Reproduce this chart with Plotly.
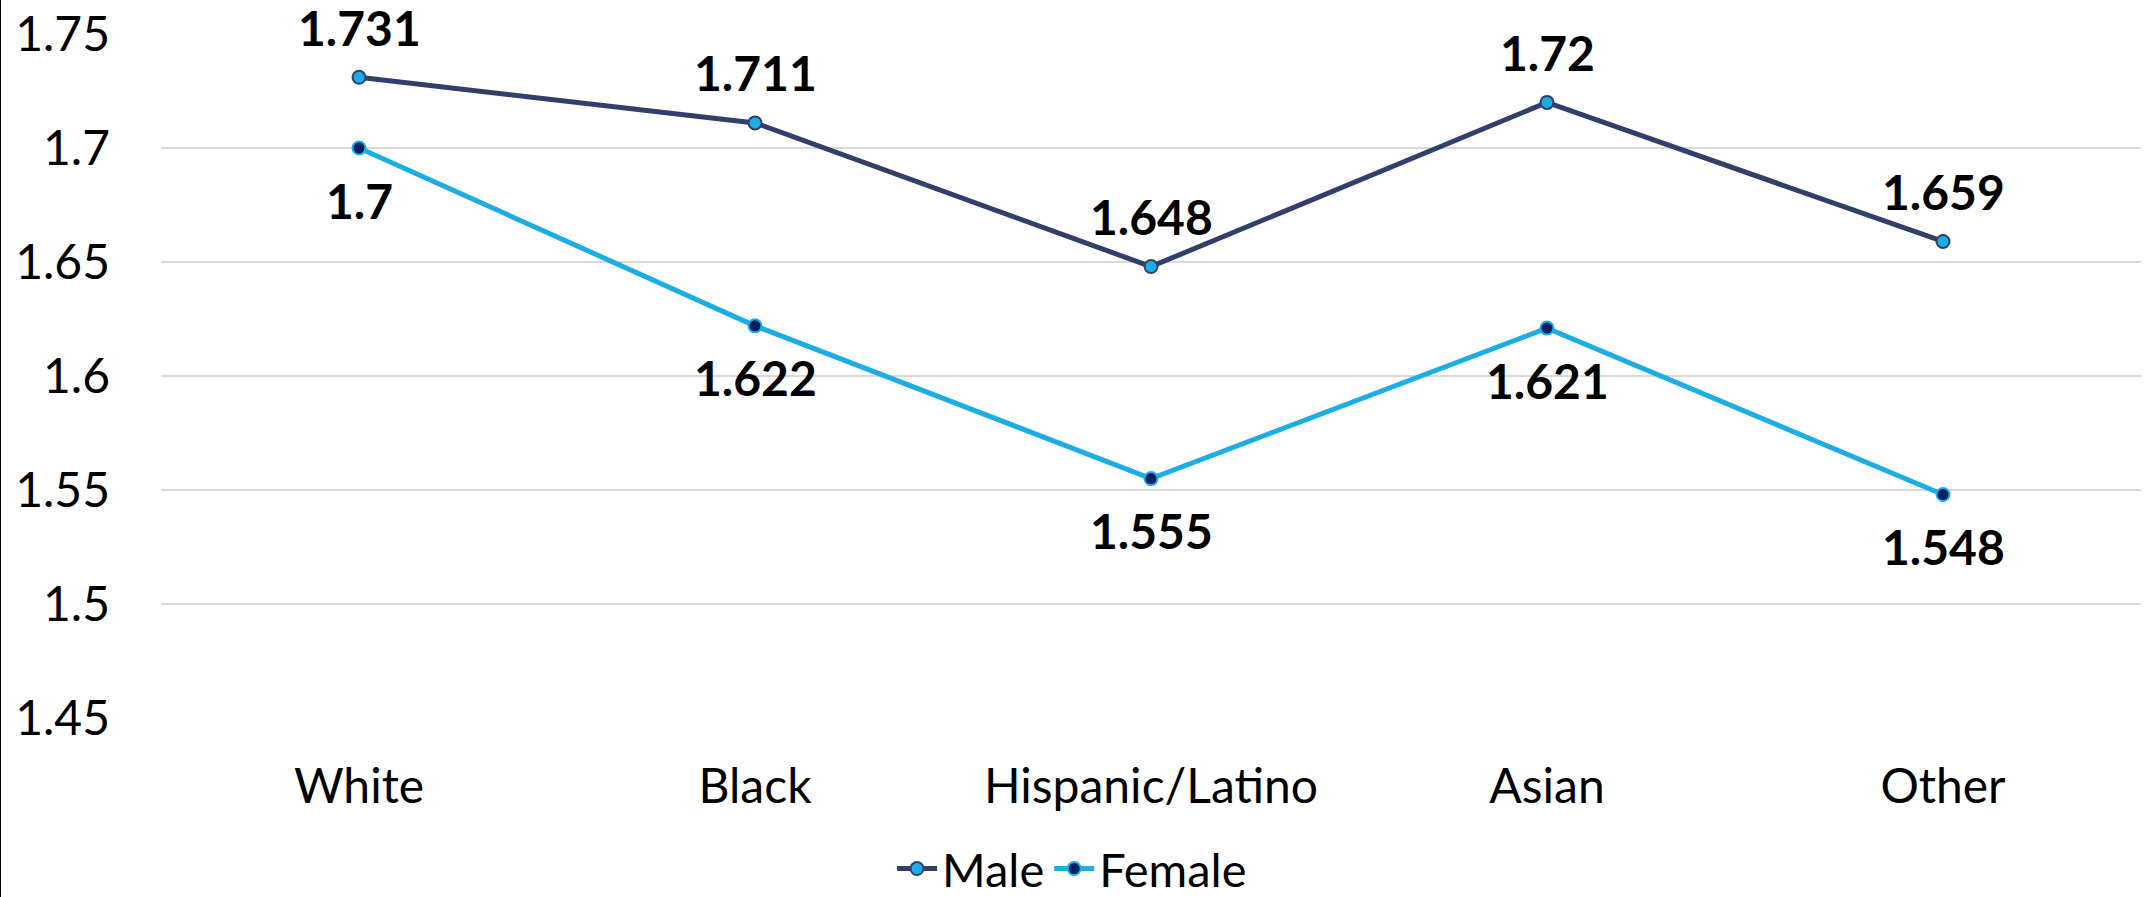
import plotly.graph_objects as go

categories = ["White", "Black", "Hispanic/Latino", "Asian", "Other"]
male = [1.731, 1.711, 1.648, 1.72, 1.659]
female = [1.7, 1.622, 1.555, 1.621, 1.548]
y_ticks = [1.45, 1.5, 1.55, 1.6, 1.65, 1.7, 1.75]
y_tick_labels = ["1.45", "1.5", "1.55", "1.6", "1.65", "1.7", "1.75"]

NAVY = "#333F6B"
SKY = "#1CADE4"
DARK = "#002060"
FONT = "Lato, Carlito, Calibri, sans-serif"

W, H = 2144, 897
ML, MR, MT, MB = 161, 3, 34, 179
PW, PH = W - ML - MR, H - MT - MB

fig = go.Figure()
fig.add_trace(go.Scatter(
    x=categories, y=male, name="Male", mode="lines+markers",
    line=dict(color=NAVY, width=5),
    marker=dict(size=13, color=SKY, line=dict(color=NAVY, width=2)),
))
fig.add_trace(go.Scatter(
    x=categories, y=female, name="Female", mode="lines+markers",
    line=dict(color=SKY, width=5),
    marker=dict(size=13, color=DARK, line=dict(color=SKY, width=2)),
))

for c, v in zip(categories, male):
    fig.add_annotation(x=c, y=v, text=f"<b>{v:g}</b>", showarrow=False,
                       yanchor="middle", yshift=50,
                       font=dict(family=FONT, size=48, color="#000000"))
for c, v in zip(categories, female):
    fig.add_annotation(x=c, y=v, text=f"<b>{v:g}</b>", showarrow=False,
                       yanchor="middle", yshift=-52,
                       font=dict(family=FONT, size=48, color="#000000"))

fig.add_shape(type="line", xref="paper", yref="paper",
              x0=-ML / PW, x1=-ML / PW,
              y0=-MB / PH, y1=1 + MT / PH,
              line=dict(color="#000000", width=2))

fig.update_layout(
    width=W, height=H,
    margin=dict(l=ML, r=MR, t=MT, b=MB, pad=0, autoexpand=False),
    paper_bgcolor="white", plot_bgcolor="white",
    font=dict(family=FONT, size=48, color="#000000"),
    showlegend=True,
    legend=dict(orientation="h", xref="paper", yref="paper",
                x=(W / 2 - ML) / PW, xanchor="center",
                y=-(869 - (MT + PH)) / PH, yanchor="middle",
                font=dict(family=FONT, size=47, color="#000000"),
                itemwidth=40, tracegroupgap=0, bgcolor="rgba(0,0,0,0)"),
    xaxis=dict(range=[-0.5, 4.5], showgrid=False, zeroline=False, showline=False,
               ticks="", ticklabelstandoff=36,
               tickfont=dict(family=FONT, size=48, color="#000000")),
    yaxis=dict(range=[1.45, 1.75], tickvals=y_ticks, ticktext=y_tick_labels,
               showgrid=True, gridcolor="#D9D9D9", gridwidth=2,
               zeroline=False, showline=False, ticks="",
               ticklabelstandoff=50,
               tickfont=dict(family=FONT, size=48, color="#000000")),
)

fig.write_html("out.html")
